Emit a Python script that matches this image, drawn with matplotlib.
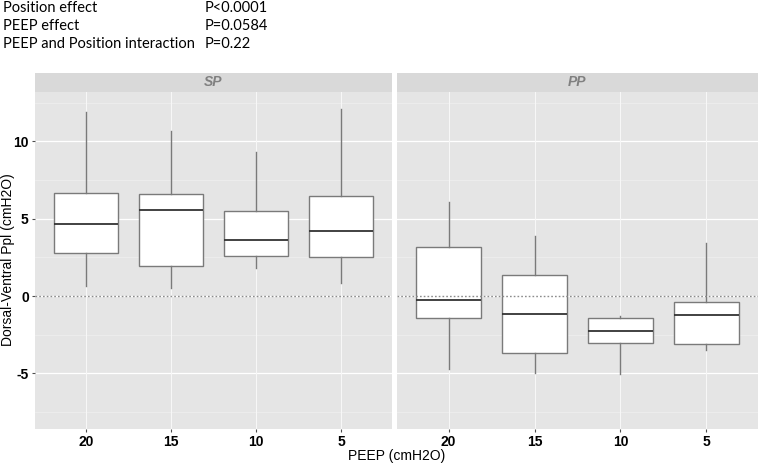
import matplotlib.pyplot as plt

# box stats: whisker low, Q1, median, Q3, whisker high
peep = ['20', '15', '10', '5']
sp_low = [0.65, 0.5, 1.8, 0.85]
sp_q1 = [2.77, 1.94, 2.58, 2.5]
sp_med = [4.65, 5.55, 3.6, 4.2]
sp_q3 = [6.65, 6.58, 5.48, 6.5]
sp_high = [11.9, 10.65, 9.35, 12.1]

pp_low = [-4.73, -4.95, -5.05, -3.5]
pp_q1 = [-1.44, -3.68, -3.05, -3.12]
pp_med = [-0.28, -1.18, -2.24, -1.25]
pp_q3 = [3.2, 1.38, -1.44, -0.41]
pp_high = [6.1, 3.9, -1.27, 3.4]

stats_text = ['Position effect', 'PEEP effect', 'PEEP and Position interaction']
p_text = ['P<0.0001', 'P=0.0584', 'P=0.22']

W, H = 760, 463
fig = plt.figure(figsize=(W / 100, H / 100), dpi=100)
fig.patch.set_facecolor('white')

panels = [('SP', 35, 392, sp_low, sp_q1, sp_med, sp_q3, sp_high),
          ('PP', 397, 758, pp_low, pp_q1, pp_med, pp_q3, pp_high)]

top, bot, strip_top = 92, 429, 73
for name, x0, x1, lo, q1, med, q3, hi in panels:
    ax = fig.add_axes([x0 / W, (H - bot) / H, (x1 - x0) / W, (bot - top) / H])
    ax.set_facecolor('#e5e5e5')
    for s in ax.spines.values():
        s.set_visible(False)
    ax.set_xlim(0.4, 4.6)
    ax.set_ylim(-8.6, 13.2)
    for y in [-7.5, -2.5, 2.5, 7.5, 12.5]:
        ax.axhline(y, color='#f0f0f0', lw=0.5, zorder=0)
    for y in [-5, 0, 5, 10]:
        ax.axhline(y, color='white', lw=0.9, zorder=0)
    for x in range(1, 5):
        ax.axvline(x, color='#f7f7f7', lw=0.8, zorder=0)
    bxp = []
    for i in range(4):
        bxp.append({'whislo': lo[i], 'q1': q1[i], 'med': med[i], 'q3': q3[i],
                    'whishi': hi[i], 'fliers': []})
    ax.bxp(bxp, positions=range(1, 5), widths=0.75, patch_artist=True,
           showcaps=False,
           boxprops=dict(facecolor='white', edgecolor='#7a7a7a', lw=1.0),
           whiskerprops=dict(color='#7a7a7a', lw=1.0),
           medianprops=dict(color='#333333', lw=1.3), zorder=2)
    ax.axhline(0, color='#8c8c8c', lw=1.0, ls=(0, (1.2, 1.5)), zorder=3)
    ax.set_xticks(range(1, 5))
    ax.set_xticklabels(peep, fontsize=10, fontweight='bold', family='Liberation Sans')
    ax.tick_params(axis='both', length=2.5, color='#4d4d4d', pad=2)
    if name == 'SP':
        ax.set_yticks([-5, 0, 5, 10])
        ax.set_yticklabels(['-5', '0', '5', '10'], fontsize=10, fontweight='bold',
                           family='Liberation Sans')
    else:
        ax.set_yticks([])
    sax = fig.add_axes([x0 / W, (H - top) / H, (x1 - x0) / W, (top - strip_top) / H])
    sax.set_facecolor('#d9d9d9')
    sax.set_xticks([])
    sax.set_yticks([])
    for s in sax.spines.values():
        s.set_visible(False)
    sax.text(0.5, 0.5, name, ha='center', va='center', fontsize=10,
             fontweight='bold', style='italic', color='#808080',
             family='Liberation Sans', transform=sax.transAxes)

fig.text(397 / W, 1 - 456 / H, 'PEEP (cmH2O)', ha='center', va='center',
         fontsize=10, family='Liberation Sans')
fig.text(8 / W, 1 - 260 / H, 'Dorsal-Ventral Ppl (cmH2O)', ha='center',
         va='center', rotation=90, fontsize=10, family='Liberation Sans')

for i in range(3):
    yy = 1 - (8 + 18 * i) / H
    fig.text(3 / W, yy, stats_text[i], ha='left', va='center', fontsize=10.5,
             family='Lato')
    fig.text(205 / W, yy, p_text[i], ha='left', va='center', fontsize=10.5,
             family='Lato')

fig.savefig('out.png', dpi=100)
